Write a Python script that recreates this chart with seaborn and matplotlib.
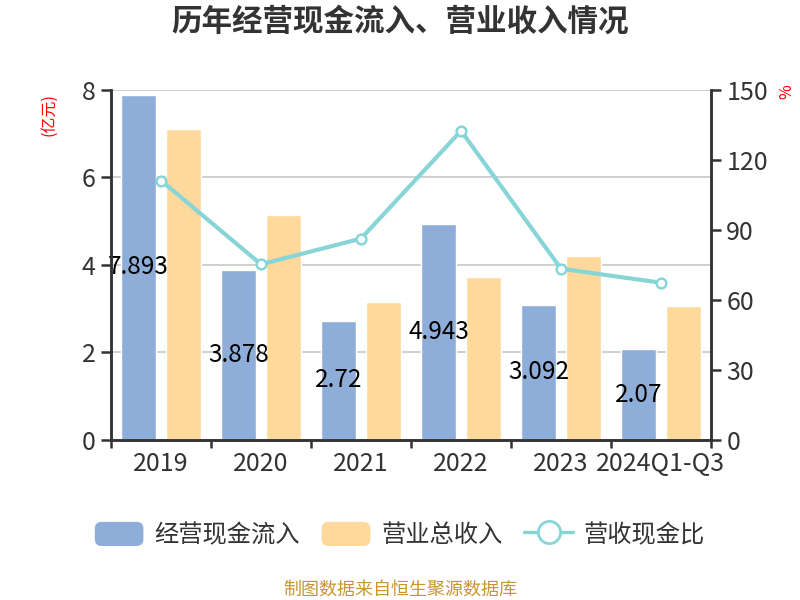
import numpy as np
import pandas as pd
import matplotlib
matplotlib.use("Agg")
import matplotlib.pyplot as plt
import seaborn as sns
from matplotlib.legend_handler import HandlerBase
from matplotlib.patches import FancyBboxPatch, Patch
from matplotlib.lines import Line2D
from matplotlib.ticker import FixedLocator, NullFormatter

# ---------------- data ----------------
categories = ['2019', '2020', '2021', '2022', '2023', '2024Q1-Q3']
cash_inflow = [7.893, 3.878, 2.72, 4.943, 3.092, 2.07]      # 经营现金流入 (亿元)
revenue = [7.10, 5.15, 3.15, 3.73, 4.21, 3.07]               # 营业总收入 (亿元)
ratio = [111.2, 75.3, 86.3, 132.5, 73.4, 67.4]               # 营收现金比 (%)
cash_labels = ['7.893', '3.878', '2.72', '4.943', '3.092', '2.07']
series_names = ['经营现金流入', '营业总收入', '营收现金比']
left_ticks = [0, 2, 4, 6, 8]
right_ticks = [0, 30, 60, 90, 120, 150]

BLUE = '#8eaed9'
ORANGE = '#fed99b'
TEAL = '#88d5d8'
DARK = '#333333'

sns.set_theme(style='white')
plt.rcParams['font.family'] = ['Noto Sans CJK SC', 'DejaVu Sans']
plt.rcParams['axes.unicode_minus'] = False

fig = plt.figure(figsize=(8, 6), dpi=100)
ax = fig.add_axes([0.13875, 0.2667, 0.75, 0.5833])

df = pd.DataFrame({
    'year': categories * 2,
    'value': cash_inflow + revenue,
    'series': [series_names[0]] * len(categories) + [series_names[1]] * len(categories),
})
sns.barplot(data=df, x='year', y='value', hue='series', order=categories,
            hue_order=series_names[:2], palette={series_names[0]: BLUE, series_names[1]: ORANGE},
            width=0.9, gap=0.22, saturation=1, legend=False, ax=ax, zorder=2)

ax.bar_label(ax.containers[0], labels=cash_labels, label_type='center',
             fontsize=17.5, color='black', zorder=5)

ax2 = ax.twinx()
sns.pointplot(x=categories, y=ratio, order=categories, ax=ax2, color=TEAL,
              markers='o', linewidth=3, markersize=7, markeredgewidth=1.8)
for ln in ax2.lines:
    ln.set_markerfacecolor('white')
    ln.set_markeredgecolor(TEAL)
    ln.set_color(TEAL)

# axes ranges / ticks
ax.set_ylim(0, 8)
ax.set_yticks(left_ticks)
ax2.set_ylim(0, 150)
ax2.set_yticks(right_ticks)
ax.set_xlim(-0.5, len(categories) - 0.5)
for a in (ax, ax2):
    a.set_xlabel('')
    a.set_ylabel('')

ax.yaxis.grid(True, color='#cccccc', linewidth=1.3, zorder=0)
ax.xaxis.grid(False)
ax2.grid(False)
ax.set_axisbelow(True)

for a in (ax, ax2):
    for s in a.spines.values():
        s.set_color(DARK)
        s.set_linewidth(1.8)
    a.spines['top'].set_visible(False)

TICK_FS = 18
ax.tick_params(axis='y', which='major', left=True, length=7, width=1.8, color=DARK,
               labelsize=TICK_FS, labelcolor=DARK, pad=4)
ax2.tick_params(axis='y', which='major', right=True, length=7, width=1.8, color=DARK,
                labelsize=TICK_FS, labelcolor=DARK, pad=4)
ax.tick_params(axis='x', which='major', length=0, labelsize=TICK_FS, labelcolor=DARK, pad=8)
ax.xaxis.set_minor_locator(FixedLocator(np.arange(-0.5, len(categories), 1.0)))
ax.xaxis.set_minor_formatter(NullFormatter())
ax.tick_params(axis='x', which='minor', bottom=True, length=6, width=1.8, color=DARK)
ax2.tick_params(axis='x', which='both', bottom=False, top=False, labelbottom=False)

# axis unit labels
fig.text(49 / 800, 1 - 115 / 600, '(亿元)', color='red', fontsize=11.5, rotation=90,
         ha='center', va='center')
fig.text(787 / 800, 1 - 92 / 600, '%', color='red', fontsize=11.5, rotation=90,
         ha='center', va='center')

# title
fig.text(0.5, 1 - 22 / 600, '历年经营现金流入、营业收入情况', fontsize=22, fontweight='bold',
         color=DARK, ha='center', va='center')

# legend with rounded patches
class RoundPatchHandler(HandlerBase):
    def create_artists(self, legend, orig_handle, xdescent, ydescent, width, height,
                       fontsize, trans):
        p = FancyBboxPatch((-xdescent, -ydescent), width, height,
                           boxstyle=f"round,pad=0,rounding_size={height * 0.28}",
                           facecolor=orig_handle.get_facecolor(), edgecolor='none',
                           transform=trans)
        return [p]

handles = [Patch(facecolor=BLUE), Patch(facecolor=ORANGE),
           Line2D([], [], color=TEAL, lw=2.5, marker='o', markersize=16,
                  markerfacecolor='white', markeredgecolor=TEAL, markeredgewidth=2)]
fig.legend(handles, series_names, loc='center', bbox_to_anchor=(0.5, 1 - 535 / 600),
           ncol=3, frameon=False, fontsize=17.5, handlelength=2.0, handleheight=1.15,
           handletextpad=0.45, columnspacing=0.9, labelcolor=DARK,
           handler_map={Patch: RoundPatchHandler()})

# source
fig.text(0.5, 1 - 590 / 600, '制图数据来自恒生聚源数据库', fontsize=13, color='#c8962e',
         ha='center', va='center')

fig.savefig('out.png', dpi=100)
